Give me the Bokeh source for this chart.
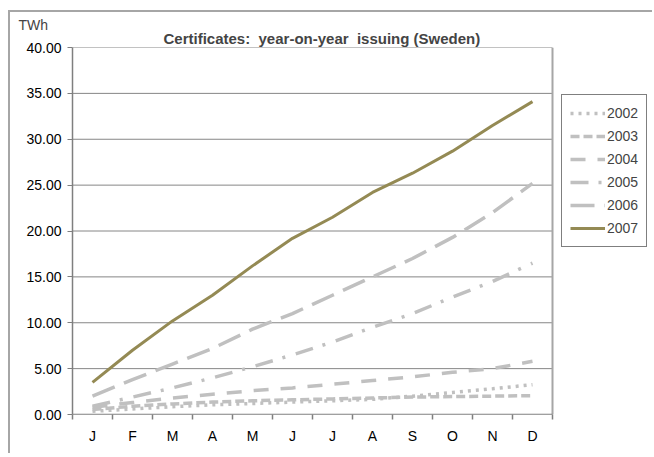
from bokeh.plotting import figure
from bokeh.models import (Range1d, FixedTicker, Legend, LegendItem, Title,
                          NumeralTickFormatter)
from bokeh.embed import file_html
from bokeh.resources import INLINE

months = ["J", "F", "M", "A", "M", "J", "J", "A", "S", "O", "N", "D"]
x = list(range(1, 13))
y_ticks = list(range(0, 41, 5))

y2002 = [0.35, 0.6, 0.85, 1.05, 1.2, 1.35, 1.5, 1.65, 2.0, 2.4, 2.8, 3.25]
y2003 = [0.55, 0.9, 1.15, 1.35, 1.5, 1.6, 1.7, 1.8, 1.9, 1.95, 2.0, 2.05]
y2004 = [0.8, 1.3, 1.8, 2.2, 2.6, 2.9, 3.3, 3.7, 4.1, 4.6, 5.0, 5.8]
y2005 = [0.9, 1.9, 2.9, 4.0, 5.2, 6.5, 7.9, 9.5, 11.0, 12.8, 14.5, 16.5]
y2006 = [2.0, 3.8, 5.5, 7.2, 9.3, 11.0, 13.0, 15.0, 17.0, 19.3, 22.0, 25.2]
y2007 = [3.5, 7.0, 10.2, 13.0, 16.2, 19.2, 21.5, 24.2, 26.3, 28.7, 31.5, 34.1]

series = [
    ("2002", y2002, "#c0c0c0", "3 5", 3.5),
    ("2003", y2003, "#c0c0c0", "9 4", 3.5),
    ("2004", y2004, "#c0c0c0", "15 12", 3.5),
    ("2005", y2005, "#c0c0c0", "18 10 3 11", 3.5),
    ("2006", y2006, "#c0c0c0", "24 10", 3.5),
    ("2007", y2007, "#948a54", "solid", 3.0),
]

FONT = "Liberation Sans"
x_lo, x_hi = 0.5, 12.5

# frame extends right so the legend can sit inside it
p = figure(width=644, height=443, output_backend="svg", toolbar_location=None,
           x_range=Range1d(x_lo, 15.0), y_range=Range1d(0, 40),
           min_border_left=62, min_border_right=2, min_border_top=35,
           min_border_bottom=41, title=None)
p.margin = (10, 0, 0, 8)
p.styles = {"border-left": "2px solid #a6a6a6", "border-top": "2px solid #a6a6a6"}
p.outline_line_color = None
p.xgrid.grid_line_color = None
p.ygrid.grid_line_color = None

# plot-area grid lines and borders
p.segment(x0=[x_lo] * len(y_ticks), x1=[x_hi] * len(y_ticks), y0=y_ticks, y1=y_ticks,
          line_color="#868686", line_width=1)
p.segment(x0=[x_hi], x1=[x_hi], y0=[0], y1=[40], line_color="#a6a6a6", line_width=2)
p.segment(x0=[x_lo], x1=[x_hi], y0=[0], y1=[0], line_color="#7f7f7f", line_width=1.5)

p.yaxis.ticker = FixedTicker(ticks=y_ticks)
p.yaxis.formatter = NumeralTickFormatter(format="0.00")
p.yaxis.major_tick_out = 5
p.yaxis.major_tick_in = 0
p.yaxis.minor_tick_line_color = None
p.yaxis.axis_line_color = "#7f7f7f"
p.yaxis.axis_line_width = 1.5
p.yaxis.major_tick_line_color = "#7f7f7f"
p.yaxis.major_label_standoff = 6
p.yaxis.major_label_text_font = FONT
p.yaxis.major_label_text_font_size = "14px"
p.yaxis.major_label_text_color = "black"

p.xaxis.ticker = FixedTicker(ticks=x, minor_ticks=[i + 0.5 for i in range(0, 13)])
p.xaxis.major_label_overrides = {i: m for i, m in zip(x, months)}
p.xaxis.major_tick_line_color = None
p.xaxis.major_tick_out = 5
p.xaxis.major_tick_in = 0
p.xaxis.minor_tick_out = 5
p.xaxis.minor_tick_in = 0
p.xaxis.minor_tick_line_color = "#7f7f7f"
p.xaxis.minor_tick_line_width = 1.5
p.xaxis.axis_line_color = None
p.xaxis.major_label_standoff = 8
p.xaxis.major_label_text_font = FONT
p.xaxis.major_label_text_font_size = "14px"
p.xaxis.major_label_text_color = "black"

items = []
for name, ys, color, dash, w in series:
    r = p.line(x, ys, line_color=color, line_width=w, line_dash=dash)
    items.append(LegendItem(label=name, renderers=[r]))

legend = Legend(items=items, location=(489, 167))
legend.label_text_font = FONT
legend.label_text_font_size = "14px"
legend.glyph_width = 35
legend.glyph_height = 20
legend.label_height = 20
legend.label_standoff = 2
legend.spacing = 3
legend.padding = 8
legend.margin = 0
legend.border_line_color = "black"
legend.border_line_width = 1
legend.background_fill_color = "white"
legend.background_fill_alpha = 1
p.add_layout(legend)

p.add_layout(Title(text="Certificates:\u00a0 year-on-year\u00a0 issuing (Sweden)", align="left",
                   offset=91, text_font=FONT, text_font_size="15px",
                   text_font_style="bold", standoff=2), "above")
p.add_layout(Title(text="TWh", align="left", offset=-54, text_font=FONT,
                   text_font_size="14px", text_font_style="normal", standoff=-12), "above")

open("out.html", "w").write(file_html(p, INLINE))
